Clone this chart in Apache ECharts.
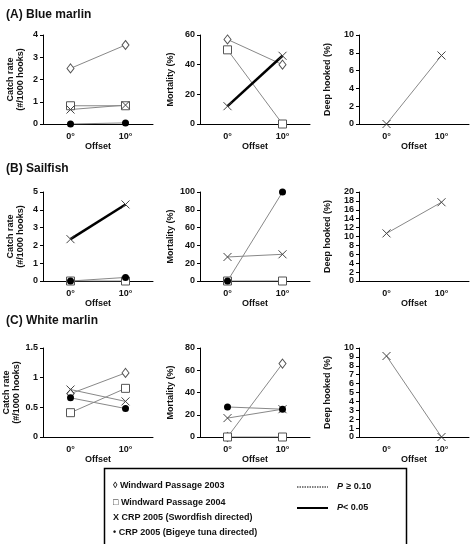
<!DOCTYPE html>
<html>
<head>
<meta charset="utf-8">
<script src="https://cdn.jsdelivr.net/npm/echarts@6/dist/echarts.min.js"></script>
<style>html,body{margin:0;padding:0;background:#fff;}#c{width:474px;height:544px;}</style>
</head>
<body>
<div id="c"></div>
<script>
// ---- Data ----
const categories = ['0°', '10°'];
// (A) Blue marlin
const A_catch_wp2003 = [2.5, 3.55];
const A_catch_wp2004 = [0.82, 0.82];
const A_catch_crpSw = [0.65, 0.85];
const A_catch_crpBt = [0, 0.05];
const A_mort_wp2003 = [57, 40];
const A_mort_wp2004 = [50, 0];
const A_mort_crpSw = [12, 46];
const A_deep_crpSw = [0, 7.7];
// (B) Sailfish
const B_catch_wp2004 = [0, 0];
const B_catch_crpSw = [2.35, 4.3];
const B_catch_crpBt = [0, 0.2];
const B_mort_wp2004 = [0, 0];
const B_mort_crpSw = [27, 30];
const B_mort_crpBt = [0, 100];
const B_deep_crpSw = [10.7, 17.7];
// (C) White marlin
const C_catch_wp2003 = [0.73, 1.08];
const C_catch_wp2004 = [0.41, 0.82];
const C_catch_crpSw = [0.8, 0.6];
const C_catch_crpBt = [0.66, 0.48];
const C_mort_wp2003 = [0, 66];
const C_mort_wp2004 = [0, 0];
const C_mort_crpSw = [17, 25];
const C_mort_crpBt = [27, 25];
const C_deep_crpSw = [9.1, 0];

// y-axis scales [max, interval]
const yScales = {
  A_catch: [4, 1], A_mort: [60, 20], A_deep: [10, 2],
  B_catch: [5, 1], B_mort: [100, 20], B_deep: [20, 2],
  C_catch: [1.5, 0.5], C_mort: [80, 20], C_deep: [10, 1]
};

const titles = ['(A) Blue marlin', '(B) Sailfish', '(C) White marlin'];

// ---- Layout / styles ----
const colLeft = [43, 200, 359];
const colW = 110;
const rowTop = [35, 192, 348];
const rowH = 89;
const yNames = ['Catch rate\n(#/1000 hooks)', 'Mortality (%)', 'Deep hooked (%)'];
const yGaps = [17, 24, 26];
const FONT = '"Liberation Sans", Arial, sans-serif';

const markers = {
  wp2003: {symbol: 'diamond', symbolSize: [7, 9], itemStyle: {color: '#fff', borderColor: '#555', borderWidth: 1}},
  wp2004: {symbol: 'rect', symbolSize: 8, itemStyle: {color: '#fff', borderColor: '#555', borderWidth: 1}},
  crpSw: {symbol: 'path://M0,0L10,10M10,0L0,10', symbolSize: 8, itemStyle: {color: 'rgba(0,0,0,0)', borderColor: '#444', borderWidth: 1}},
  crpBt: {symbol: 'circle', symbolSize: 7, itemStyle: {color: '#000', borderColor: '#000', borderWidth: 0}}
};

const panels = [
  {r: 0, c: 0, key: 'A_catch', s: [['wp2003', A_catch_wp2003], ['wp2004', A_catch_wp2004], ['crpSw', A_catch_crpSw], ['crpBt', A_catch_crpBt]]},
  {r: 0, c: 1, key: 'A_mort', s: [['wp2003', A_mort_wp2003], ['wp2004', A_mort_wp2004], ['crpSw', A_mort_crpSw, true]]},
  {r: 0, c: 2, key: 'A_deep', s: [['crpSw', A_deep_crpSw]]},
  {r: 1, c: 0, key: 'B_catch', s: [['wp2004', B_catch_wp2004], ['crpSw', B_catch_crpSw, true], ['crpBt', B_catch_crpBt]]},
  {r: 1, c: 1, key: 'B_mort', s: [['wp2004', B_mort_wp2004], ['crpSw', B_mort_crpSw], ['crpBt', B_mort_crpBt]]},
  {r: 1, c: 2, key: 'B_deep', s: [['crpSw', B_deep_crpSw]]},
  {r: 2, c: 0, key: 'C_catch', s: [['wp2003', C_catch_wp2003], ['wp2004', C_catch_wp2004], ['crpSw', C_catch_crpSw], ['crpBt', C_catch_crpBt]]},
  {r: 2, c: 1, key: 'C_mort', s: [['wp2003', C_mort_wp2003], ['wp2004', C_mort_wp2004], ['crpSw', C_mort_crpSw], ['crpBt', C_mort_crpBt]]},
  {r: 2, c: 2, key: 'C_deep', s: [['crpSw', C_deep_crpSw]]}
];

const grid = [], xAxis = [], yAxis = [], series = [];
const axisLine = {lineStyle: {color: '#000', width: 1}};
const axisTick = {lineStyle: {color: '#000'}, length: 3};
const labelStyle = {color: '#111', fontSize: 9, fontWeight: 'bold', fontFamily: FONT};

panels.forEach((p, i) => {
  grid.push({left: colLeft[p.c], top: rowTop[p.r], width: colW, height: rowH, containLabel: false});
  xAxis.push({
    type: 'category', gridIndex: i, data: categories, boundaryGap: true,
    name: 'Offset', nameLocation: 'middle', nameGap: 15,
    nameTextStyle: {color: '#111', fontSize: 9, fontWeight: 'bold', fontFamily: FONT},
    axisLine: axisLine, axisTick: Object.assign({alignWithLabel: false}, axisTick),
    axisLabel: Object.assign({margin: 8}, labelStyle), splitLine: {show: false}
  });
  const sc = yScales[p.key];
  yAxis.push({
    type: 'value', gridIndex: i, min: 0, max: sc[0], interval: sc[1],
    name: yNames[p.c], nameLocation: 'middle', nameGap: yGaps[p.c], nameRotate: 90,
    nameTextStyle: {color: '#111', fontSize: 9, fontWeight: 'bold', fontFamily: FONT, lineHeight: 10},
    axisLine: Object.assign({show: true}, axisLine), axisTick: Object.assign({show: true}, axisTick),
    axisLabel: Object.assign({margin: 5}, labelStyle), splitLine: {show: false}
  });
  p.s.forEach(([k, vals, sig]) => {
    const m = markers[k];
    series.push({
      type: 'line', xAxisIndex: i, yAxisIndex: i, data: vals,
      symbol: m.symbol, symbolSize: m.symbolSize, itemStyle: m.itemStyle,
      showAllSymbol: true, animation: false, z: sig ? 3 : 2,
      lineStyle: sig ? {color: '#000', width: 2.5} : {color: '#888', width: 1}
    });
  });
});

const titleTexts = titles.map((t, r) => ({
  type: 'text', left: 6, top: [9, 163, 315][r],
  style: {text: t, font: 'bold 12px ' + FONT, fill: '#111'}
}));

const legX = 113;
const legendGraphic = [
  {type: 'rect', shape: {x: 104.5, y: 468.5, width: 302, height: 85}, style: {fill: '#fff', stroke: '#000', lineWidth: 1.5}},
  {type: 'text', x: legX, y: 486, style: {text: '◊ Windward Passage 2003', font: 'bold 9px ' + FONT, fill: '#111', textVerticalAlign: 'middle'}},
  {type: 'text', x: legX, y: 503, style: {text: '□ Windward Passage 2004', font: 'bold 9px ' + FONT, fill: '#111', textVerticalAlign: 'middle'}},
  {type: 'text', x: legX, y: 518, style: {text: 'X CRP 2005 (Swordfish directed)', font: 'bold 9px ' + FONT, fill: '#111', textVerticalAlign: 'middle'}},
  {type: 'text', x: legX, y: 533, style: {text: '• CRP 2005 (Bigeye tuna directed)', font: 'bold 9px ' + FONT, fill: '#111', textVerticalAlign: 'middle'}},
  {type: 'line', shape: {x1: 297, y1: 487, x2: 328, y2: 487}, style: {stroke: '#000', lineWidth: 1, lineDash: [1.5, 1]}},
  {type: 'line', shape: {x1: 297, y1: 508, x2: 328, y2: 508}, style: {stroke: '#000', lineWidth: 2}},
  {type: 'text', x: 337, y: 487, style: {rich: {i: {font: 'italic bold 9px ' + FONT, fill: '#111'}, n: {font: 'bold 9px ' + FONT, fill: '#111'}}, text: '{i|P} {n|≥ 0.10}', textVerticalAlign: 'middle'}},
  {type: 'text', x: 337, y: 508, style: {rich: {i: {font: 'italic bold 9px ' + FONT, fill: '#111'}, n: {font: 'bold 9px ' + FONT, fill: '#111'}}, text: '{i|P}{n|< 0.05}', textVerticalAlign: 'middle'}}
];

const chart = echarts.init(document.getElementById('c'), null, {renderer: 'canvas'});
chart.setOption({
  animation: false,
  backgroundColor: '#fff',
  grid: grid, xAxis: xAxis, yAxis: yAxis, series: series,
  graphic: titleTexts.concat(legendGraphic)
});
</script>
</body>
</html>
